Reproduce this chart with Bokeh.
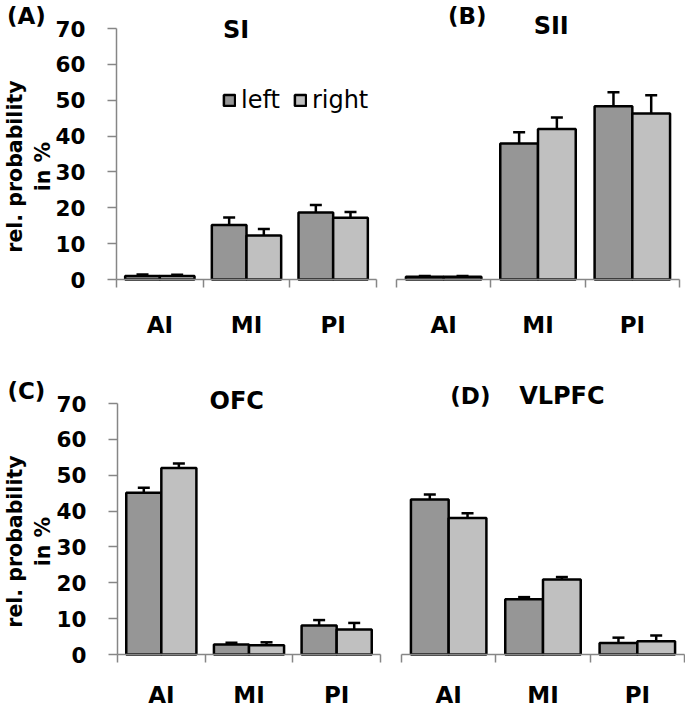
import numpy as np
from math import pi
from bokeh.plotting import figure
from bokeh.models import (ColumnDataSource, Range1d, FixedTicker, Whisker, TeeHead,
                          Label, Legend, LegendItem, LinearAxis)
from bokeh.layouts import column, row
from bokeh.transform import dodge
from bokeh.embed import file_html
from bokeh.resources import INLINE

# ---------------- data ----------------
categories = ["AI", "MI", "PI"]
y_ticks = [0, 10, 20, 30, 40, 50, 60, 70]
series_names = ["left", "right"]

si_left = [1.0, 15.2, 18.7]
si_left_err = [0.4, 2.1, 2.1]
si_right = [1.0, 12.3, 17.2]
si_right_err = [0.3, 1.8, 1.6]

sii_left = [0.8, 37.9, 48.3]
sii_left_err = [0.2, 3.2, 3.9]
sii_right = [0.8, 42.0, 46.3]
sii_right_err = [0.2, 3.2, 5.1]

ofc_left = [45.1, 2.8, 8.1]
ofc_left_err = [1.4, 0.5, 1.5]
ofc_right = [52.0, 2.6, 7.0]
ofc_right_err = [1.3, 0.8, 1.8]

vlpfc_left = [43.2, 15.4, 3.2]
vlpfc_left_err = [1.4, 0.6, 1.5]
vlpfc_right = [38.1, 20.9, 3.7]
vlpfc_right_err = [1.3, 0.7, 1.6]

FONT = "DejaVu Sans"
LEFT_COLOR = "#969696"
RIGHT_COLOR = "#c0c0c0"
AXIS_COLOR = "#868686"
Y_MAX = 70


def make_panel(W, H, frame, left, left_err, right, right_err, show_y,
               letter, letter_pos, title, title_pos, cat_standoff, legend_loc=None):
    fx0, fx1, fy_top, fy_bot = frame
    n = len(categories)
    ppx = (fx1 - fx0) / n
    ppy = (fy_bot - fy_top) / Y_MAX
    centers = [i + 0.5 for i in range(n)]
    bounds = [float(i) for i in range(n + 1)]
    src = ColumnDataSource(dict(
        x=centers, left=left, right=right,
        left_up=[v + e for v, e in zip(left, left_err)],
        right_up=[v + e for v, e in zip(right, right_err)],
    ))
    p = figure(width=W, height=H,
               x_range=Range1d(-fx0 / ppx, (W - fx0) / ppx),
               y_range=Range1d(-(H - fy_bot) / ppy, Y_MAX + fy_top / ppy),
               output_backend="svg", toolbar_location=None, title=None,
               x_axis_location=None, y_axis_location=None,
               min_border=0, min_border_left=0, min_border_right=0,
               min_border_top=0, min_border_bottom=0)
    p.outline_line_color = None
    for g in p.xgrid + p.ygrid:
        g.visible = False

    r1 = p.vbar(x=dodge("x", -0.2), top="left", width=0.4, source=src,
                fill_color=LEFT_COLOR, line_color="black", line_width=2.5)
    r2 = p.vbar(x=dodge("x", 0.2), top="right", width=0.4, source=src,
                fill_color=RIGHT_COLOR, line_color="black", line_width=2.5)
    for off, lo, up in [(-0.2, "left", "left_up"), (0.2, "right", "right_up")]:
        w = Whisker(base=dodge("x", off), lower=lo, upper=up, source=src,
                    line_color="black", line_width=2.5, lower_head=None,
                    upper_head=TeeHead(size=12, line_color="black", line_width=2.5),
                    level="glyph")
        p.add_layout(w)

    xa = LinearAxis(fixed_location=0, bounds=(0, n),
                    ticker=FixedTicker(ticks=centers, minor_ticks=bounds))
    xa.major_label_overrides = {c: lab for c, lab in zip(centers, categories)}
    xa.axis_line_color = AXIS_COLOR
    xa.axis_line_width = 1.5
    xa.major_tick_line_color = None
    xa.major_tick_out = 0
    xa.major_tick_in = 0
    xa.minor_tick_line_color = AXIS_COLOR
    xa.minor_tick_line_width = 1.5
    xa.minor_tick_out = 8
    xa.minor_tick_in = 0
    xa.major_label_text_font = FONT
    xa.major_label_text_font_style = "bold"
    xa.major_label_text_font_size = "23px"
    xa.major_label_text_color = "black"
    xa.major_label_standoff = cat_standoff
    p.add_layout(xa, "below")

    if show_y:
        ya = LinearAxis(fixed_location=0, bounds=(0, Y_MAX),
                        ticker=FixedTicker(ticks=y_ticks, minor_ticks=[]))
        ya.axis_line_color = AXIS_COLOR
        ya.axis_line_width = 1.5
        ya.major_tick_line_color = AXIS_COLOR
        ya.major_tick_line_width = 1.5
        ya.major_tick_out = 9
        ya.major_tick_in = 0
        ya.minor_tick_line_color = None
        ya.major_label_text_font = FONT
        ya.major_label_text_font_style = "bold"
        ya.major_label_text_font_size = "21.5px"
        ya.major_label_text_color = "black"
        ya.major_label_standoff = 22
        p.add_layout(ya, "left")
        for txt, lx in [("rel. probability", -1.17), ("in %", -0.85)]:
            p.add_layout(Label(x=lx, y=31.5, text=txt, angle=pi / 2,
                               text_align="center", text_baseline="middle",
                               text_font=FONT, text_font_style="bold",
                               text_font_size="20.5px", text_color="black"))

    p.add_layout(Label(x=letter_pos[0], y=letter_pos[1], text=letter,
                       text_align="center", text_baseline="middle",
                       text_font=FONT, text_font_style="bold",
                       text_font_size="23px", text_color="black"))
    p.add_layout(Label(x=title_pos[0], y=title_pos[1], text=title,
                       text_align="center", text_baseline="middle",
                       text_font=FONT, text_font_style="bold",
                       text_font_size="24px", text_color="black"))

    if legend_loc is not None:
        lg = Legend(items=[LegendItem(label=series_names[0], renderers=[r1]),
                           LegendItem(label=series_names[1], renderers=[r2])],
                    orientation="horizontal", location=legend_loc,
                    glyph_width=14, glyph_height=14, label_standoff=5, spacing=13,
                    padding=0, margin=0, border_line_color=None,
                    background_fill_alpha=0, label_text_font=FONT,
                    label_text_font_size="24px", label_text_color="black")
        p.add_layout(lg)
    return p


pA = make_panel(386, 345, (116, 376, 28, 279), si_left, si_left_err, si_right, si_right_err,
                True, "(A)", (-1.04, 73.5), "SI", (1.38, 69.7), 24, legend_loc=(222, 231))
pB = make_panel(299, 345, (10, 293, 28, 279), sii_left, sii_left_err, sii_right, sii_right_err,
                False, "(B)", (0.75, 73.6), "SII", (1.64, 70.7), 24)
pC = make_panel(390, 364, (117, 380, 58, 309), ofc_left, ofc_left_err, ofc_right, ofc_right_err,
                True, "(C)", (-1.04, 73.6), "OFC", (1.36, 70.6), 19)
pD = make_panel(295, 364, (11, 294, 58, 309), vlpfc_left, vlpfc_left_err, vlpfc_right,
                vlpfc_right_err, False, "(D)", (0.73, 72.2), "VLPFC", (1.70, 72.2), 19)

layout = column(row(pA, pB), row(pC, pD))
open("out.html", "w").write(file_html(layout, INLINE))
